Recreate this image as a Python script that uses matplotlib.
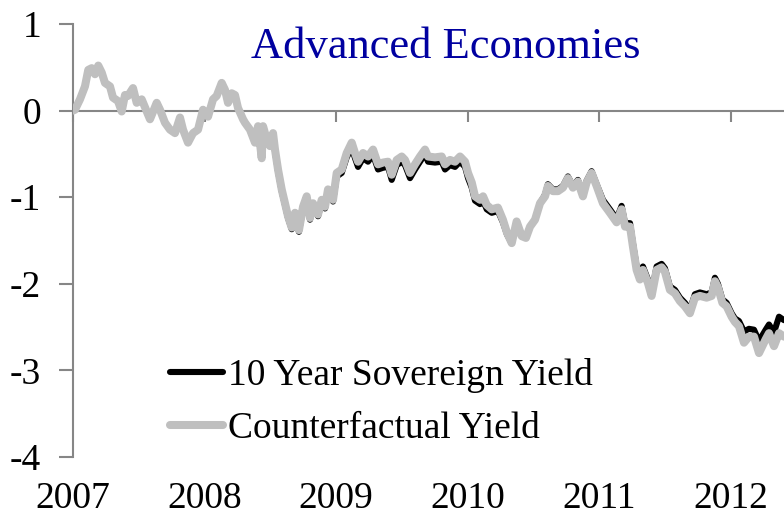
import matplotlib
matplotlib.use("Agg")
import matplotlib.pyplot as plt

plt.rcParams['font.family'] = ['Liberation Serif', 'DejaVu Serif']

title = "Advanced Economies"
series_names = ["10 Year Sovereign Yield", "Counterfactual Yield"]
year_ticks = [2007, 2008, 2009, 2010, 2011, 2012]
y_ticks = [1, 0, -1, -2, -3, -4]

dates = [
    2007.000, 2007.015, 2007.053, 2007.091, 2007.116, 2007.142, 2007.167, 2007.192, 2007.218, 2007.243,
    2007.281, 2007.304, 2007.342, 2007.370, 2007.395, 2007.418, 2007.456, 2007.484, 2007.522, 2007.560,
    2007.585, 2007.636, 2007.661, 2007.699, 2007.737, 2007.775, 2007.813, 2007.836, 2007.874, 2007.912,
    2007.950, 2007.988, 2008.026, 2008.064, 2008.092, 2008.130, 2008.155, 2008.178, 2008.206, 2008.231,
    2008.254, 2008.292, 2008.307, 2008.345, 2008.383, 2008.406, 2008.434, 2008.444, 2008.472, 2008.497,
    2008.520, 2008.535, 2008.558, 2008.586, 2008.611, 2008.634, 2008.662, 2008.687, 2008.717, 2008.748,
    2008.776, 2008.801, 2008.824, 2008.862, 2008.890, 2008.915, 2008.938, 2008.976, 2009.004, 2009.042,
    2009.080, 2009.118, 2009.143, 2009.166, 2009.204, 2009.242, 2009.280, 2009.318, 2009.356, 2009.394,
    2009.422, 2009.460, 2009.498, 2009.523, 2009.561, 2009.599, 2009.637, 2009.675, 2009.698, 2009.751,
    2009.802, 2009.827, 2009.865, 2009.903, 2009.941, 2009.979, 2010.002, 2010.030, 2010.055, 2010.093,
    2010.116, 2010.144, 2010.182, 2010.229, 2010.267, 2010.298, 2010.334, 2010.371, 2010.410, 2010.442,
    2010.473, 2010.511, 2010.549, 2010.587, 2010.609, 2010.647, 2010.685, 2010.723, 2010.761, 2010.799,
    2010.837, 2010.875, 2010.903, 2010.941, 2010.979, 2011.027, 2011.080, 2011.131, 2011.169, 2011.195,
    2011.233, 2011.255, 2011.283, 2011.308, 2011.331, 2011.369, 2011.397, 2011.435, 2011.473, 2011.498,
    2011.536, 2011.574, 2011.612, 2011.650, 2011.688, 2011.726, 2011.764, 2011.815, 2011.853, 2011.878,
    2011.901, 2011.935, 2011.967, 2012.005, 2012.030, 2012.061, 2012.099, 2012.137, 2012.175, 2012.213,
    2012.264, 2012.289, 2012.327, 2012.365, 2012.403,
]

counterfactual = [
    0.00, 0.01, 0.13, 0.28, 0.47, 0.49, 0.42, 0.52, 0.44, 0.32,
    0.28, 0.15, 0.11, -0.01, 0.18, 0.17, 0.26, 0.09, 0.13, -0.01,
    -0.10, 0.09, 0.01, -0.14, -0.22, -0.26, -0.08, -0.22, -0.37, -0.26,
    -0.22, 0.01, -0.07, 0.13, 0.17, 0.32, 0.24, 0.09, 0.20, 0.18,
    0.03, -0.10, -0.14, -0.22, -0.37, -0.18, -0.55, -0.18, -0.33, -0.41,
    -0.26, -0.45, -0.68, -0.91, -1.07, -1.22, -1.35, -1.18, -1.38, -1.11,
    -0.99, -1.24, -1.07, -1.20, -1.03, -1.11, -0.91, -1.03, -0.72, -0.68,
    -0.49, -0.37, -0.49, -0.59, -0.49, -0.53, -0.45, -0.62, -0.60, -0.59,
    -0.74, -0.57, -0.53, -0.57, -0.72, -0.62, -0.53, -0.45, -0.53, -0.54,
    -0.53, -0.62, -0.57, -0.59, -0.53, -0.59, -0.72, -0.83, -0.99, -1.03,
    -0.99, -1.09, -1.14, -1.12, -1.26, -1.41, -1.53, -1.28, -1.45, -1.47,
    -1.34, -1.26, -1.07, -0.99, -0.87, -0.93, -0.93, -0.89, -0.78, -0.89,
    -0.82, -0.99, -0.83, -0.72, -0.87, -1.07, -1.18, -1.29, -1.14, -1.34,
    -1.34, -1.57, -1.84, -1.95, -1.84, -1.99, -2.14, -1.84, -1.81, -1.86,
    -2.07, -2.11, -2.20, -2.26, -2.34, -2.16, -2.14, -2.16, -2.14, -1.97,
    -2.04, -2.22, -2.26, -2.38, -2.44, -2.49, -2.68, -2.61, -2.61, -2.80,
    -2.64, -2.57, -2.72, -2.57, -2.61,
]

sovereign = [
    0.00, 0.01, 0.13, 0.28, 0.47, 0.49, 0.42, 0.52, 0.44, 0.32,
    0.28, 0.15, 0.11, -0.01, 0.18, 0.17, 0.26, 0.09, 0.13, -0.01,
    -0.10, 0.09, 0.01, -0.14, -0.22, -0.26, -0.08, -0.22, -0.37, -0.26,
    -0.22, 0.01, -0.07, 0.13, 0.17, 0.32, 0.24, 0.09, 0.20, 0.18,
    0.03, -0.10, -0.14, -0.22, -0.37, -0.18, -0.55, -0.18, -0.33, -0.41,
    -0.26, -0.47, -0.70, -0.93, -1.09, -1.24, -1.37, -1.20, -1.40, -1.13,
    -1.01, -1.26, -1.09, -1.22, -1.05, -1.13, -0.93, -1.05, -0.76, -0.72,
    -0.54, -0.43, -0.55, -0.65, -0.55, -0.59, -0.51, -0.68, -0.66, -0.65,
    -0.80, -0.63, -0.59, -0.63, -0.78, -0.68, -0.59, -0.50, -0.59, -0.60,
    -0.59, -0.68, -0.63, -0.65, -0.59, -0.65, -0.78, -0.89, -1.04, -1.08,
    -1.04, -1.14, -1.18, -1.16, -1.29, -1.43, -1.53, -1.28, -1.45, -1.47,
    -1.34, -1.26, -1.07, -0.97, -0.85, -0.91, -0.91, -0.87, -0.76, -0.87,
    -0.80, -0.97, -0.81, -0.70, -0.85, -1.03, -1.14, -1.25, -1.10, -1.30,
    -1.30, -1.53, -1.80, -1.91, -1.80, -1.95, -2.10, -1.80, -1.77, -1.82,
    -2.03, -2.07, -2.16, -2.22, -2.30, -2.12, -2.10, -2.12, -2.10, -1.93,
    -2.00, -2.18, -2.22, -2.34, -2.40, -2.43, -2.55, -2.52, -2.53, -2.66,
    -2.53, -2.47, -2.56, -2.38, -2.42,
]

W, H = 784, 519
fig = plt.figure(figsize=(W / 100, H / 100), dpi=100)
ax = fig.add_axes([73 / W, 1 - 457 / H, (W - 73) / W, (457 - 24) / H])

axis_color = '#868686'
ax.plot(dates, sovereign, color='black', lw=4.4, solid_joinstyle='round',
        solid_capstyle='round', label=series_names[0], zorder=3)
ax.plot(dates, counterfactual, color='#BFBFBF', lw=5.8, solid_joinstyle='round',
        solid_capstyle='round', label=series_names[1], zorder=4)

ax.set_xlim(year_ticks[0], 2012.403)
ax.set_ylim(-4, 1)

for s in ['top', 'right']:
    ax.spines[s].set_visible(False)
ax.spines['left'].set_color(axis_color)
ax.spines['left'].set_linewidth(1.5)
ax.spines['bottom'].set_position(('data', 0))
ax.spines['bottom'].set_color(axis_color)
ax.spines['bottom'].set_linewidth(1.5)

ax.set_yticks(y_ticks)
ax.set_yticklabels([str(v) for v in y_ticks])
ax.tick_params(axis='y', direction='out', length=10, width=1.5, color=axis_color,
               labelsize=27, pad=13)
ax.set_xticks(year_ticks)
ax.tick_params(axis='x', direction='out', length=8, width=1.5, color=axis_color,
               labelbottom=False)

sec = ax.secondary_xaxis('bottom')
sec.set_xticks(year_ticks)
sec.set_xticklabels([str(y) for y in year_ticks])
sec.spines['bottom'].set_visible(False)
sec.tick_params(axis='x', length=0, labelsize=27, pad=18)

fig.text(446 / W, 1 - 47 / H, title, color='#0000A0', fontsize=32,
         ha='center', va='center')

leg = ax.legend(loc='center left', bbox_to_anchor=(170 / W, 1 - 402 / H),
                bbox_transform=fig.transFigure, frameon=False, fontsize=27,
                handlelength=1.4, handletextpad=0.15, labelspacing=0.5,
                borderpad=0, borderaxespad=0)
for line in leg.get_lines():
    line.set_solid_capstyle('round')

fig.savefig('out.png', dpi=100)
